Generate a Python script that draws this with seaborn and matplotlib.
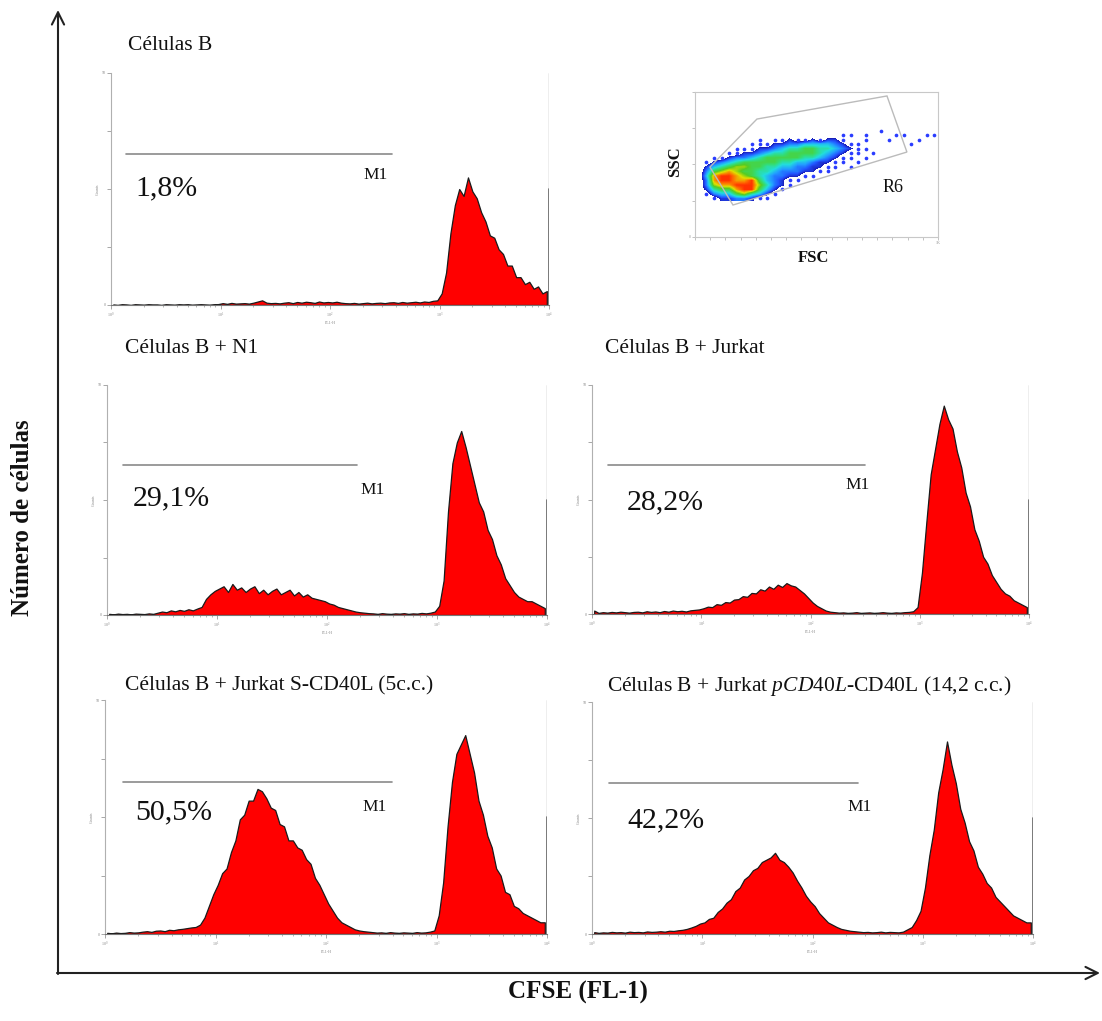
import numpy as np
import pandas as pd
import seaborn as sns
import matplotlib
matplotlib.use("Agg")
import matplotlib.pyplot as plt
from matplotlib.colors import LinearSegmentedColormap
from matplotlib.patches import Polygon

# ---------------- data ----------------
titles = ["Células B", "Células B + N1", "Células B + Jurkat",
          "Células B + Jurkat S-CD40L (5c.c.)",
          "Células B + Jurkat $\\mathit{pCD40L}$-CD40L (14,2 c.c.)"]
percents = ["1,8%", "29,1%", "28,2%", "50,5%", "42,2%"]
decade_labels = ["$10^0$", "$10^1$", "$10^2$", "$10^3$", "$10^4$"]

# FL1 histograms: 100 bins, 0.04 decade each (10^0 .. 10^4), counts in % of axis height
counts_b = [0.2,0.0,0.3,0.2,0.0,0.3,0.2,0.1,0.3,0.2, 0.2,0.0,0.3,0.2,0.1,0.3,0.2,0.3,0.1,0.2,
            0.3,0.2,0.1,0.3,0.4, 0.8,0.5,0.9,0.6,0.7,0.8,0.6,1.0,1.5,2.0, 1.0,0.8,0.9,0.7,1.0,
            1.2,0.8,1.3,1.0,1.4, 1.2,0.9,1.5,1.1,1.3, 1.1,1.4,1.0,0.8,0.7,0.9,0.6,0.8,1.0,0.7,
            0.9,1.0,0.8,1.1,1.2,0.9,1.3,1.0,1.2,1.4, 1.1,1.5,1.3,1.8,2.0,
            5,14,31,43,50,47,55,49,46,40, 36,30,29,24,22,17,17,12,12,9, 10,7,8,5,6]
counts_n1 = [0.5,0.3,0.6,0.4,0.5,0.3,0.6,0.5,0.4,0.7, 0.5,1.0,1.5,1.2,2.0,1.6,2.2,1.8,2.5,2.0,
             2.8,3.5,7.0,9.0,10.5,
             11.5,12.5,10.0,13.5,11.0,12.0,10.0,11.5,12.5,9.5, 11.0,9.0,10.5,11.5,9.0,10.0,11.0,8.5,10.0,8.0,
             9.0,7.5,7.0,6.5,6.0,
             5.0,4.5,3.5,3.0,2.5,2.0,1.5,1.2,1.0,0.8, 0.7,0.5,0.8,0.6,0.5,0.7,0.6,0.8,0.5,0.7,
             0.6,0.9,0.7,1.0,1.5,
             4,15,45,66,75,80,73,65,57,49, 45,37,33,26,22,16,13,10,8,7, 6,6,5,4,3]
counts_jurkat = [1.5,0.5,0.8,0.6,0.9,0.7,1.0,0.8,0.6,0.9, 1.0,0.7,1.2,0.9,1.1,0.8,1.3,1.0,1.5,1.2,
                 1.4,1.1,1.6,1.8,2.0,
                 2.5,3.2,3.0,4.3,4.0,5.2,5.0,6.3,6.5,7.8, 7.5,9.2,9.0,10.8,10.2,12.0,11.0,12.8,11.8,13.5,
                 12.5,12.0,10.5,9.0,7.0,
                 5.0,3.5,2.5,1.5,1.0,0.8,0.6,0.7,0.5,0.6, 0.8,0.5,0.6,0.7,0.5,0.6,0.8,0.6,0.5,0.7,
                 0.6,0.8,0.9,1.2,3.0,
                 18,40,61,72,83,91,85,81,71,64, 53,47,37,32,25,22,17,14,11,9, 8,6,5,4,3]
counts_scd40l = [0.5,0.3,0.6,0.4,0.5,0.8,0.6,0.7,1.0,1.2, 0.9,1.4,1.5,1.2,1.8,1.6,2.0,2.2,2.5,2.8,
                 3.0,4.0,7.0,12.0,17.0,
                 21,26,28,35,40,49,51,57,57,62, 61,58,54,53,47,46,40,40,37,36, 32,30,24,21,17,
                 13,10,7,5,4,3,2,1.5,1.2,1.0, 0.8,0.6,0.7,0.5,0.8,0.6,0.5,0.7,0.6,0.5,
                 0.8,0.6,0.7,1.0,1.5,
                 8,22,46,65,77,81,85,77,69,57, 51,42,37,28,25,18,17,12,11,9, 8,7,6,5,5]
counts_pcd40l = [0.8,0.5,0.7,0.6,0.9,0.7,0.8,0.6,1.0,0.8, 0.9,0.7,1.1,0.9,1.0,1.2,1.0,1.4,1.3,1.6,
                 1.8,2.2,2.8,3.5,4.5,
                 5,6.5,7,9.5,11,13.5,15,18.5,20,23.5, 25,27.5,28.5,31,32,33,35,32,31,29, 26.5,23,20,16.5,14,
                 12,9,7,5,4,3,2.2,1.8,1.4,1.2, 1.0,0.8,0.9,0.7,0.8,1.0,0.7,0.9,0.8,0.7,
                 1.0,2.0,3.0,6.0,10.0,
                 20,34,45,61,71,83,73,65,54,48, 40,36,29,26,22,20,16,14,12,10, 8,7,6,5,5]
all_counts = [counts_b, counts_n1, counts_jurkat, counts_scd40l, counts_pcd40l]

# M1 gate range (decades)
m1_start = [0.14, 0.15, 0.15, 0.16, 0.15]
m1_end = [2.57, 2.27, 2.50, 2.60, 2.41]

# FSC/SSC density (level 0-9), rows = SSC 768 -> 256, cols = FSC 0 -> 1024
density_rows = [
    "00000000000000000000000010000000",
    "00000000000000000001101000110011",
    "00000000101121121221001001000100",
    "00000001112233444432110000001000",
    "00000111223455665543211000000000",
    "00001122345566665432110100000000",
    "00112334566666554321101000000000",
    "01234566666554432211010000000000",
    "02456776655443322110100000000000",
    "03678766554333221100000000000000",
    "04899876543322110000000000000000",
    "03899889643211000000000000000000",
    "03788999753210000000000000000000",
    "02566899642100000000000000000000",
    "01344675421000000000000000000000",
    "00122332110000000000000000000000",
]
gate_fsc = [160, 893, 809, 261, 63]
gate_ssc = [226, 600, 996, 833, 494]

# ---------------- style ----------------
sns.set_theme(style="white")
plt.rcParams["font.family"] = ["Liberation Serif", "DejaVu Serif"]
plt.rcParams["mathtext.fontset"] = "custom"
plt.rcParams["mathtext.rm"] = "Liberation Serif"
plt.rcParams["mathtext.it"] = "Liberation Serif:italic"
plt.rcParams["mathtext.bf"] = "Liberation Serif:bold"

W, H = 1102, 1021
fig = plt.figure(figsize=(W / 100, H / 100), dpi=100)


def box(l, t, r, b):
    return [l / W, 1 - b / H, (r - l) / W, (b - t) / H]


hist_boxes = [(111, 73, 549, 305), (107, 385, 547, 615), (592, 385, 1029, 614),
              (105, 700, 547, 934), (592, 702, 1033, 934)]
title_xy = [(128, 45), (125, 348), (605, 348), (125, 686), (607, 686)]
pct_xy = [(135, 188), (133, 498), (627, 502), (135, 812), (627, 820)]
m1_xy = [(363, 175), (360, 490), (845, 485), (362, 807), (847, 807)]

n_bins = 100
centers = (np.arange(n_bins) + 0.5) * 4 / n_bins
minor = [d + np.log10(k) for d in range(4) for k in range(2, 10)]

for i, bx in enumerate(hist_boxes):
    ax = fig.add_axes(box(*bx))
    ax.set_facecolor("none")
    df = pd.DataFrame({"fl1": centers, "n": np.asarray(all_counts[i], float)})
    sns.histplot(data=df, x="fl1", weights="n", binwidth=4 / n_bins, binrange=(0, 4),
                 element="poly", fill=True, color="#ff0000", alpha=1,
                 edgecolor="#1a1a1a", linewidth=0.9, ax=ax)
    ax.set_xlim(0, 4)
    ax.set_ylim(0, 100)
    ax.axvline(4, color="#aaaaaa", lw=1.0)
    ax.plot([4, 4], [0, 50], color="#666666", lw=1.2)
    ax.plot([m1_start[i], m1_end[i]], [65, 65], color="#8a8a8a", lw=1.2)
    for s in ["top", "right"]:
        ax.spines[s].set_visible(False)
    ax.spines["left"].set_color("#b0b0b0")
    ax.spines["bottom"].set_color("#777777")
    ax.spines["left"].set_linewidth(0.8)
    ax.spines["bottom"].set_linewidth(0.8)
    ax.set_yticks([0, 25, 50, 75, 100])
    ax.set_yticklabels(["0", "", "", "", "50"])
    ax.set_xticks(range(5))
    ax.set_xticklabels(decade_labels)
    ax.set_xticks(minor, minor=True)
    ax.tick_params(axis="both", which="major", length=3, width=0.6, color="#999999",
                   labelsize=3, labelcolor="#888888", pad=1, left=True, bottom=True)
    ax.tick_params(axis="x", which="minor", length=1.5, width=0.5, color="#999999", bottom=True)
    ax.set_xlabel("FL1-H", fontsize=3, color="#888888", labelpad=1)
    ax.set_ylabel("Counts", fontsize=3, color="#888888", labelpad=1)

# ---------------- FSC / SSC inset ----------------
axs = fig.add_axes(box(695, 92, 938, 237))
grid = np.array([[int(ch) for ch in row.ljust(32, "0")[:32]] for row in density_rows], float)
body = np.where(grid >= 2, grid, 0)
cmap = LinearSegmentedColormap.from_list(
    "flow", ["#1a1ab4", "#2255ff", "#22a0ff", "#22dddd", "#33dd77", "#55cc22",
             "#e0e000", "#ff6a00", "#ff0000"])
cmap.set_under("white")
axs.imshow(body, cmap=cmap, vmin=1.5, vmax=9.5, extent=[0, 1024, 256, 768],
           origin="upper", aspect="auto", interpolation="bilinear")
kk, cc = np.nonzero(grid == 1)
sparse = pd.DataFrame({"fsc": (cc + 0.5) * 32, "ssc": 768 - (kk + 0.5) * 32})
sns.scatterplot(data=sparse, x="fsc", y="ssc", color="#2a3cff", s=7, linewidth=0,
                ax=axs, legend=False)
axs.add_patch(Polygon(np.column_stack([gate_fsc, gate_ssc]), closed=True, fill=False,
                      edgecolor="#bbbbbb", lw=1.0))
axs.set_xlim(0, 1024)
axs.set_ylim(0, 1024)
axs.set_xlabel("")
axs.set_ylabel("")
for s in axs.spines.values():
    s.set_color("#c8c8c8")
    s.set_linewidth(0.8)
axs.set_yticks([0, 256, 512, 768, 1024])
axs.set_yticklabels(["0", "", "", "", ""])
axs.set_xticks(np.arange(0, 1025, 64))
axs.set_xticklabels([""] * 16 + ["1K"])
axs.tick_params(length=2, width=0.5, color="#aaaaaa", labelsize=3, labelcolor="#999999",
                pad=1, left=True, bottom=True)

# ---------------- overlay: arrows and texts ----------------
ov = fig.add_axes([0, 0, 1, 1])
ov.set_xlim(0, W)
ov.set_ylim(H, 0)
ov.axis("off")
ov.patch.set_alpha(0)

ov.annotate("", xy=(58, 10), xytext=(58, 974),
            arrowprops=dict(arrowstyle="->", color="#222222", lw=1.5, mutation_scale=22,
                            shrinkA=0, shrinkB=0))
ov.annotate("", xy=(1100, 973), xytext=(57, 973),
            arrowprops=dict(arrowstyle="->", color="#222222", lw=1.5, mutation_scale=22,
                            shrinkA=0, shrinkB=0))

ov.text(23, 518, "Número de células", rotation=90, ha="center", va="center",
        fontsize=18, fontweight="bold", color="#111111")
ov.text(578, 992, "CFSE (FL-1)", ha="center", va="center", fontsize=18,
        fontweight="bold", color="#111111")

for i in range(5):
    ov.text(*title_xy[i], titles[i], ha="left", va="center", fontsize=15.5, color="#111111")
    ov.text(*pct_xy[i], percents[i], ha="left", va="center", fontsize=21.5, color="#111111")
    ov.text(*m1_xy[i], "M1", ha="left", va="center", fontsize=12.5, color="#111111")

ov.text(675, 162, "SSC", rotation=90, ha="center", va="center", fontsize=12,
        fontweight="bold", color="#111111")
ov.text(813, 258, "FSC", ha="center", va="center", fontsize=12, fontweight="bold",
        color="#111111")
ov.text(893, 187, "R6", ha="center", va="center", fontsize=13, color="#111111")

fig.savefig("out.png", dpi=100, facecolor="white")
